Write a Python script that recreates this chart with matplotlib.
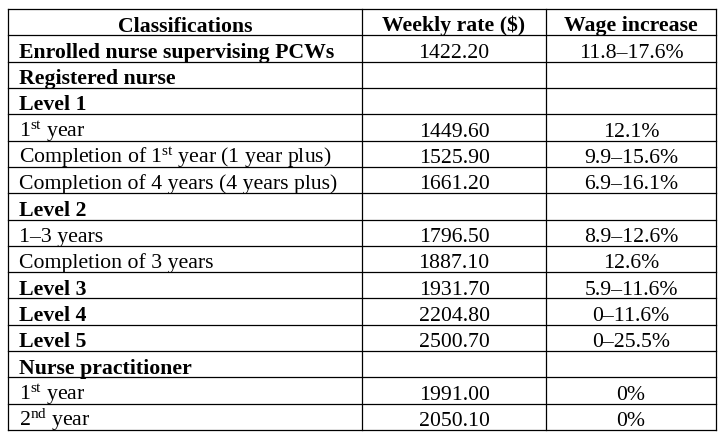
import matplotlib
matplotlib.use("Agg")
import matplotlib.pyplot as plt

# Table content
headers = ["Classifications", "Weekly rate ($)", "Wage increase"]
classifications = [
    "Enrolled nurse supervising PCWs",
    "Registered nurse",
    "Level 1",
    r"1$^{\mathrm{st}}$ year",
    r"Completion of 1$^{\mathrm{st}}$ year (1 year plus)",
    "Completion of 4 years (4 years plus)",
    "Level 2",
    "1–3 years",
    "Completion of 3 years",
    "Level 3",
    "Level 4",
    "Level 5",
    "Nurse practitioner",
    r"1$^{\mathrm{st}}$ year",
    r"2$^{\mathrm{nd}}$ year",
]
is_bold = [True, True, True, False, False, False, True, False, False,
           True, True, True, True, False, False]
weekly_rates = ["1422.20", "", "", "1449.60", "1525.90", "1661.20", "",
                "1796.50", "1887.10", "1931.70", "2204.80", "2500.70", "",
                "1991.00", "2050.10"]
wage_increases = ["11.8–17.6%", "", "", "12.1%", "9.9–15.6%", "6.9–16.1%", "",
                  "8.9–12.6%", "12.6%", "5.9–11.6%", "0–11.6%", "0–25.5%", "",
                  "0%", "0%"]

plt.rcParams['font.family'] = ['Liberation Serif', 'DejaVu Serif']
plt.rcParams['mathtext.fontset'] = 'custom'
plt.rcParams['mathtext.rm'] = 'Liberation Serif'
plt.rcParams['mathtext.it'] = 'Liberation Serif:italic'
plt.rcParams['mathtext.bf'] = 'Liberation Serif:bold'

# layout in pixels
col_edges = [8, 362, 546, 716]
top, bottom = 10, 431
n_rows = len(classifications) + 1
row_h = (bottom - top) / n_rows
fs = 15.7
pad_left = 11
baseline_off = 21.5

fig = plt.figure(figsize=(7.22, 4.39), dpi=100)
ax = fig.add_axes([0, 0, 1, 1])
ax.set_xlim(0, 722)
ax.set_ylim(439, 0)
ax.axis('off')

# grid lines
for i in range(n_rows + 1):
    y = top + i * row_h
    ax.plot([col_edges[0], col_edges[-1]], [y, y], color='black', lw=0.9,
            solid_capstyle='projecting')
for x in col_edges:
    ax.plot([x, x], [top, bottom], color='black', lw=0.9,
            solid_capstyle='projecting')

# header
for j, h in enumerate(headers):
    cx = (col_edges[j] + col_edges[j + 1]) / 2
    ax.text(cx, top + baseline_off, h, ha='center', va='baseline',
            fontsize=fs, fontweight='bold')

# body
for i, name in enumerate(classifications):
    yb = top + (i + 1) * row_h + baseline_off
    ax.text(col_edges[0] + pad_left, yb, name, ha='left', va='baseline',
            fontsize=fs, fontweight='bold' if is_bold[i] else 'normal')
    ax.text((col_edges[1] + col_edges[2]) / 2, yb, weekly_rates[i],
            ha='center', va='baseline', fontsize=fs)
    ax.text((col_edges[2] + col_edges[3]) / 2, yb, wage_increases[i],
            ha='center', va='baseline', fontsize=fs)

fig.savefig("out.png", dpi=100)
